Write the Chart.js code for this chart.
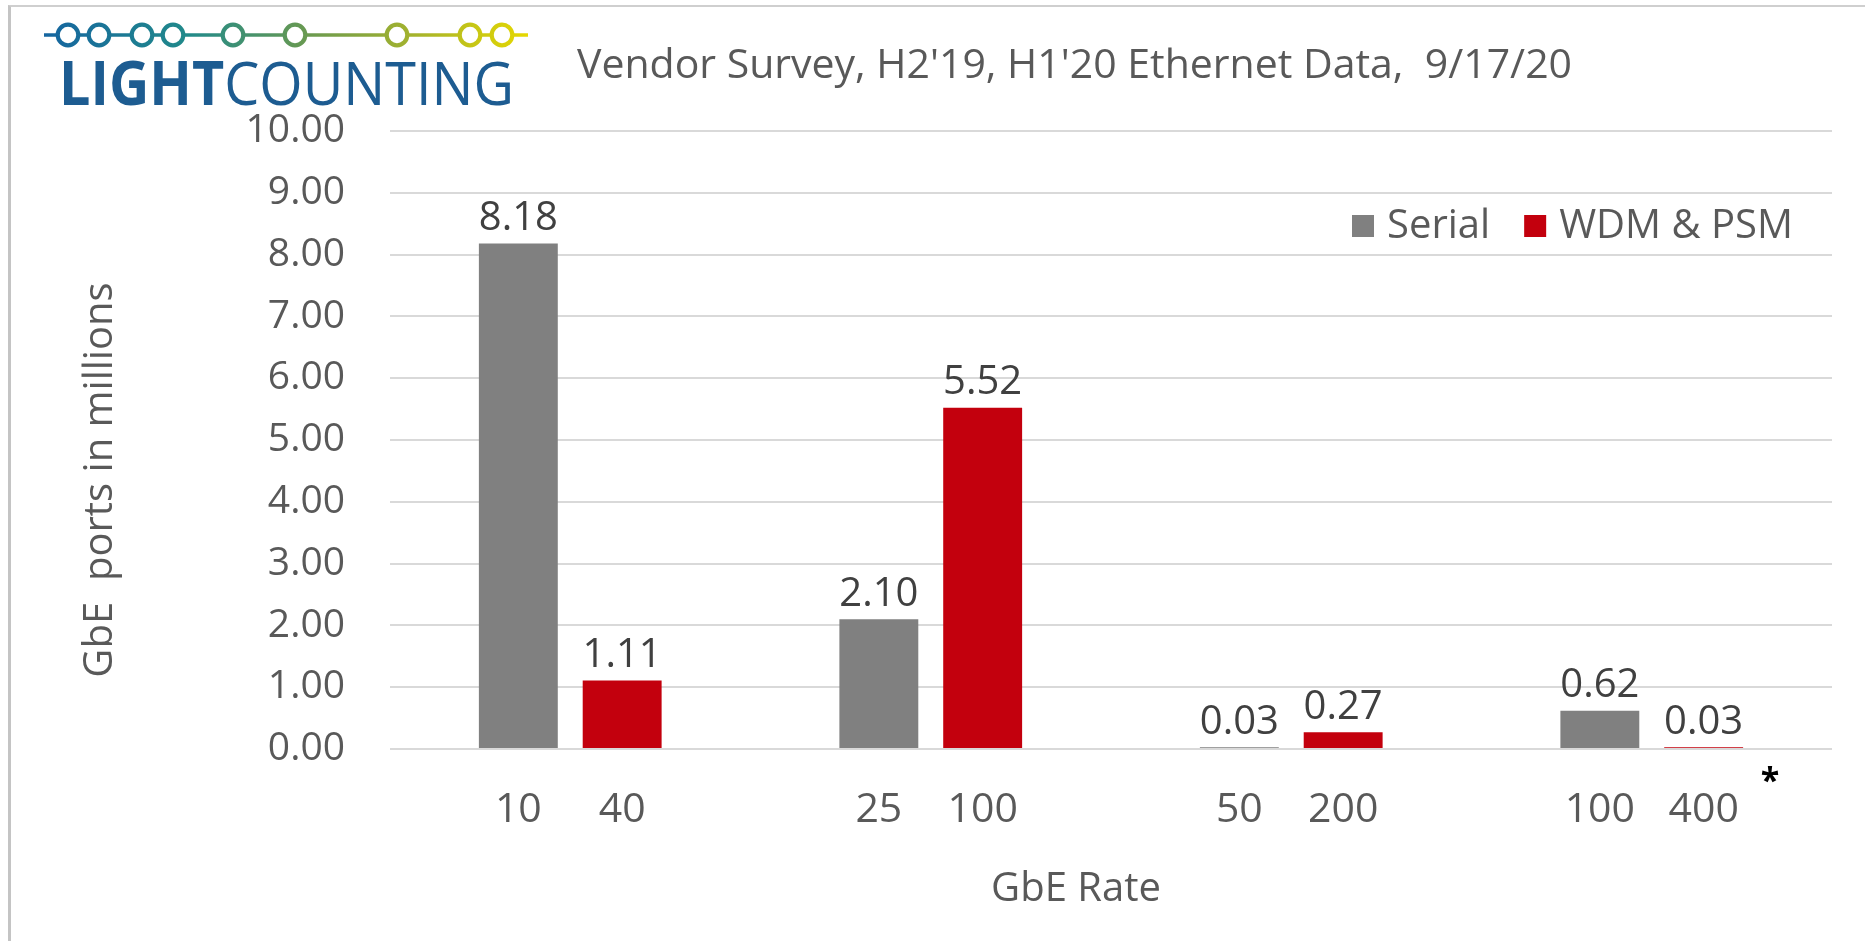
<!DOCTYPE html>
<html>
<head>
<meta charset="utf-8">
<script src="https://cdn.jsdelivr.net/npm/chart.js@4.4.1/dist/chart.umd.min.js"></script>
<style>
    html, body { margin: 0; padding: 0; background: #fff; }
    #wrap { position: relative; width: 1865px; height: 941px; overflow: hidden; }
    #frame { position: absolute; left: 8px; top: 5px; right: 0; bottom: 0;
             border-top: 2px solid #cfcfcf; border-left: 3px solid #c4c4c4; }
    #logo { position: absolute; left: 0; top: 0; }
    #myChart { position: absolute; left: 0; top: 0; }
</style>
</head>
<body>
<div id="wrap">
    <canvas id="myChart" width="1865" height="941"></canvas>
    <div id="frame"></div>
    <svg id="logo" width="560" height="110" viewBox="0 0 560 110">
        <defs>
            <linearGradient id="lc" x1="44" y1="0" x2="528" y2="0" gradientUnits="userSpaceOnUse">
                <stop offset="0" stop-color="#1565a0"/>
                <stop offset="0.3" stop-color="#218a8a"/>
                <stop offset="0.55" stop-color="#6b9a4f"/>
                <stop offset="0.78" stop-color="#a9b52a"/>
                <stop offset="1" stop-color="#e6d800"/>
            </linearGradient>
        </defs>
        <g stroke="url(#lc)" fill="#fff">
            <line x1="44" y1="35" x2="528" y2="35" stroke-width="3.5"/>
            <g stroke-width="4.2">
                <circle cx="68" cy="35" r="10.3"/>
                <circle cx="99" cy="35" r="10.3"/>
                <circle cx="142" cy="35" r="10.3"/>
                <circle cx="173" cy="35" r="10.3"/>
                <circle cx="233" cy="35" r="10.3"/>
                <circle cx="295" cy="35" r="10.3"/>
                <circle cx="397" cy="35" r="10.3"/>
                <circle cx="470" cy="35" r="10.3"/>
                <circle cx="502" cy="35" r="10.3"/>
            </g>
        </g>
        <text x="59" y="105" textLength="455" lengthAdjust="spacingAndGlyphs"
              font-family="Open Sans" font-size="60" fill="#1d5c91"><tspan font-weight="bold">LIGHT</tspan>COUNTING</text>
    </svg>
</div>
<script>
// values (millions of ports)
const categories = ['10 / 40', '25 / 100', '50 / 200', '100 / 400'];
const serialRates = ['10', '25', '50', '100'];
const wdmRates = ['40', '100', '200', '400'];
const serialValues = [8.18, 2.10, 0.03, 0.62];
const wdmValues = [1.11, 5.52, 0.27, 0.03];
const seriesNames = ['Serial', 'WDM & PSM'];
const seriesColors = ['#808080', '#c3000d'];
const yMin = 0, yMax = 10, yStep = 1;

const titleText = "Vendor Survey, H2'19, H1'20 Ethernet Data,  9/17/20";
const yTitle = 'GbE  ports in millions';
const xTitle = 'GbE Rate';

const FONT = '"Open Sans", sans-serif';

// value labels, rate labels under each bar, legend, titles
const textPlugin = {
    id: 'textPlugin',
    afterDraw(chart){
        const ctx = chart.ctx;
        const area = chart.chartArea;
        const rates = [serialRates, wdmRates];
        ctx.save();
        ctx.textAlign = 'center';
        ctx.textBaseline = 'middle';
        chart.data.datasets.forEach((ds, i) => {
            const meta = chart.getDatasetMeta(i);
            meta.data.forEach((bar, j) => {
                ctx.font = '40px ' + FONT;
                ctx.fillStyle = '#404040';
                ctx.fillText(ds.data[j].toFixed(2), bar.x, bar.y - 25);
                ctx.font = '41px ' + FONT;
                ctx.fillStyle = '#595959';
                ctx.fillText(rates[i][j], bar.x, area.bottom + 61);
            });
        });

        // legend inside the plot
        ctx.font = '40px ' + FONT;
        ctx.textAlign = 'left';
        let x = 1352;
        const ly = 226;
        seriesNames.forEach((name, i) => {
            ctx.fillStyle = seriesColors[i];
            ctx.fillRect(x, ly - 11, 22, 22);
            ctx.fillStyle = '#595959';
            ctx.fillText(name, x + 35, ly + 1);
            x += 35 + ctx.measureText(name).width + 34;
        });

        // chart title
        ctx.font = '41px ' + FONT;
        ctx.fillStyle = '#595959';
        ctx.fillText(titleText, 577, 66, 995);

        // axis titles
        ctx.font = '40px ' + FONT;
        ctx.textAlign = 'center';
        ctx.fillText(xTitle, 1076, 890);
        ctx.save();
        ctx.translate(101, 480);
        ctx.rotate(-Math.PI / 2);
        ctx.fillText(yTitle, 0, 0);
        ctx.restore();

        ctx.font = 'bold 34px ' + FONT;
        ctx.fillStyle = '#000';
        ctx.fillText('*', 1770, 782);
        ctx.restore();
    }
};

const myChart = new Chart(document.getElementById('myChart').getContext('2d'), {
    type: 'bar',
    data: {
        labels: categories,
        datasets: [{
            label: seriesNames[0],
            data: serialValues,
            backgroundColor: seriesColors[0]
        }, {
            label: seriesNames[1],
            data: wdmValues,
            backgroundColor: seriesColors[1]
        }]
    },
    options: {
        responsive: false,
        animation: false,
        categoryPercentage: 0.576,
        barPercentage: 0.76,
        layout: {
            padding: { top: 131, right: 33, bottom: 0, left: 0 }
        },
        plugins: {
            legend: { display: false },
            tooltip: { enabled: false }
        },
        scales: {
            x: {
                ticks: { display: false },
                grid: { display: false },
                border: { display: false },
                afterFit: s => { s.height = 192; }
            },
            y: {
                min: yMin,
                max: yMax,
                ticks: {
                    stepSize: yStep,
                    padding: 45,
                    color: '#595959',
                    font: { family: 'Open Sans', size: 39 },
                    callback: v => v.toFixed(2)
                },
                grid: { color: '#d9d9d9', lineWidth: 2, drawTicks: false },
                border: { display: false },
                afterFit: s => { s.width = 390; }
            }
        }
    },
    plugins: [textPlugin]
});
</script>
</body>
</html>
